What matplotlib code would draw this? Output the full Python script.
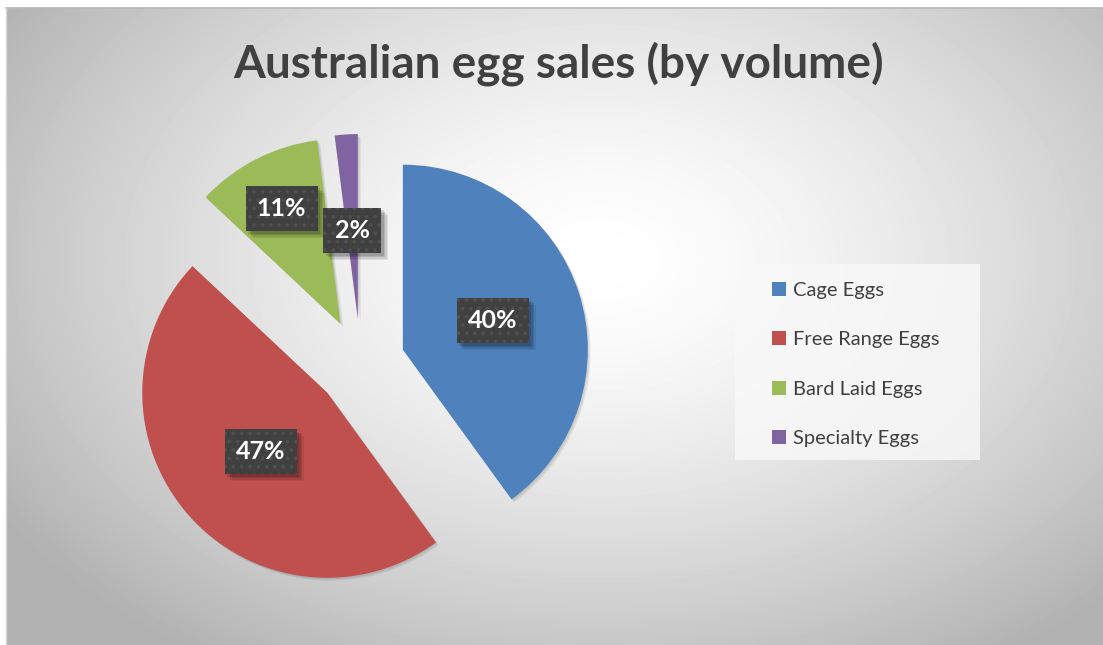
import numpy as np
import matplotlib
matplotlib.use("Agg")
import matplotlib.pyplot as plt
import matplotlib.patheffects as pe
from matplotlib.patches import Rectangle

# data
categories = ["Cage Eggs", "Free Range Eggs", "Bard Laid Eggs", "Specialty Eggs"]
shares = [40, 47, 11, 2]
colors = ["#4f81bd", "#c0504d", "#9bbb59", "#8064a2"]
label_dist = [0.51, 0.48, 0.70, 0.48]   # label placement from each exploded wedge centre

plt.rcParams["font.family"] = ["Lato", "DejaVu Sans"]
plt.rcParams["hatch.linewidth"] = 1.5

W, H = 1103, 645
fig = plt.figure(figsize=(W / 100, H / 100), dpi=100)
fig.patch.set_facecolor("white")

# chart area with a radial grey gradient
bx0, by0 = 6, 8
bg = fig.add_axes([bx0 / W, 0, (W - bx0) / W, (H - by0) / H])
yy, xx = np.mgrid[by0:H, bx0:W]
d = np.sqrt(((xx - 600) / 620.0) ** 2 + ((yy - 260) / 420.0) ** 2)
g = 1 - 0.25 * np.clip(d, 0, 1.15) ** 1.5
bg.imshow(g, cmap="gray", vmin=0, vmax=1, aspect="auto", interpolation="bilinear")
bg.set_axis_off()
fig.add_artist(plt.Line2D([bx0 / W, 1], [1 - by0 / H, 1 - by0 / H], color="#b8b8b8", lw=1.2))
fig.add_artist(plt.Line2D([bx0 / W, bx0 / W], [0, 1 - by0 / H], color="#d8d8d8", lw=1.0))

# pie axes: radius 1 == 185 px, centre at (360.6, 363.4) px
r_px = 185.0
cx, cy = 360.6, 363.4
half = 280.0
ax = fig.add_axes([(cx - half) / W, (H - cy - half) / H, 2 * half / W, 2 * half / H])
wedges, _ = ax.pie(shares, colors=colors, startangle=90, counterclock=False,
                   explode=[0.24] * len(shares), radius=1,
                   wedgeprops=dict(linewidth=0))
for w in wedges:
    w.set_path_effects([pe.SimplePatchShadow(offset=(2, -2), alpha=0.08, shadow_rgbFace="black"),
                        pe.SimplePatchShadow(offset=(1, -1), alpha=0.08, shadow_rgbFace="black"),
                        pe.Normal()])
lim = half / r_px
ax.set_xlim(-lim, lim)
ax.set_ylim(-lim, lim)
ax.set_axis_off()

shadow = [pe.SimplePatchShadow(offset=(5, -5), alpha=0.07, shadow_rgbFace="black"),
          pe.SimplePatchShadow(offset=(4, -4), alpha=0.09, shadow_rgbFace="black"),
          pe.SimplePatchShadow(offset=(3, -3), alpha=0.12, shadow_rgbFace="black"),
          pe.SimplePatchShadow(offset=(2, -2), alpha=0.12, shadow_rgbFace="black"),
          pe.Normal()]

for w, val, dist in zip(wedges, shares, label_dist):
    mid = np.deg2rad((w.theta1 + w.theta2) / 2)
    x = w.center[0] + dist * np.cos(mid)
    y = w.center[1] + dist * np.sin(mid)
    # plain box carrying the soft shadow
    t = ax.text(x, y, f"{val}%", ha="center", va="center", color="white",
                fontsize=18, fontweight="bold", zorder=5,
                bbox=dict(boxstyle="square,pad=0.45", facecolor="#404040",
                          edgecolor="none", linewidth=0))
    t.get_bbox_patch().set_path_effects(shadow)
    # dotted box on top
    ax.text(x, y, f"{val}%", ha="center", va="center", color="white",
            fontsize=18, fontweight="bold", zorder=6,
            bbox=dict(boxstyle="square,pad=0.45", facecolor="#404040",
                      edgecolor="#4f4f4f", linewidth=0, hatch=".."))

# title
fig.text(559 / W, 1 - 78 / H, "Australian egg sales (by volume)", ha="center",
         va="baseline", fontsize=33, fontweight="bold", color="#404040")

# legend panel
fig.add_artist(Rectangle((735 / W, 1 - 460 / H), 245 / W, 196 / H,
                         transform=fig.transFigure, facecolor="#f9f9f9",
                         edgecolor="none", alpha=0.8))
handles = [Rectangle((0, 0), 1, 1, facecolor=c, edgecolor="none") for c in colors]
leg = fig.legend(handles, categories, loc="upper left",
                 bbox_to_anchor=(762 / W, 1 - 272 / H), frameon=False,
                 fontsize=14.5, handlelength=0.7, handleheight=0.7,
                 handletextpad=0.35, labelspacing=1.6, borderpad=0)
for txt in leg.get_texts():
    txt.set_color("#404040")

fig.savefig("out.png", dpi=100)
